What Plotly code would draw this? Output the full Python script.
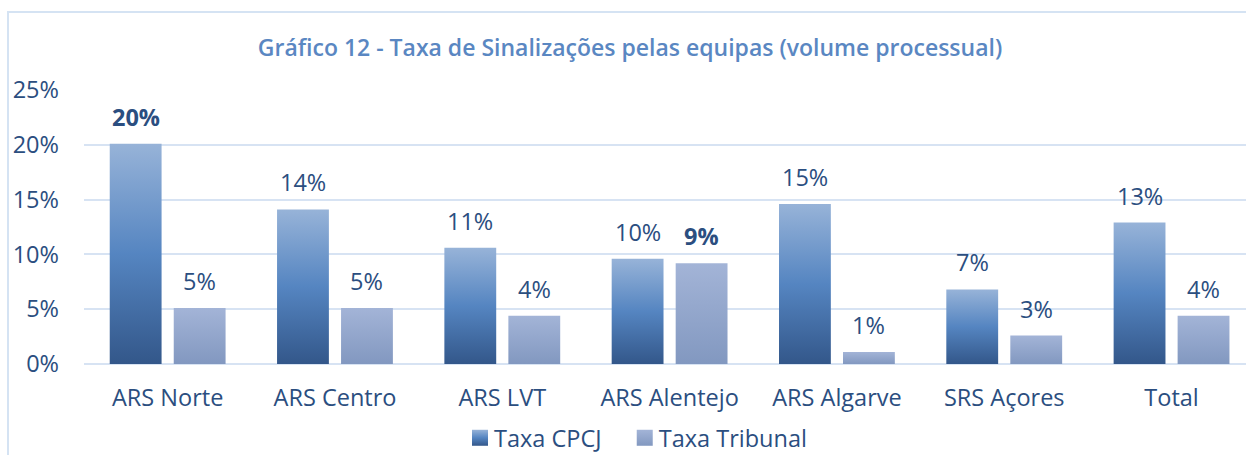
import plotly.graph_objects as go

categories = ["ARS Norte", "ARS Centro", "ARS LVT", "ARS Alentejo", "ARS Algarve", "SRS Açores", "Total"]
taxa_cpcj = [20.1, 14.1, 10.6, 9.6, 14.6, 6.8, 12.9]
taxa_tribunal = [5.1, 5.1, 4.4, 9.2, 1.1, 2.6, 4.4]
bold_cpcj = [True, False, False, False, False, False, False]
bold_trib = [False, False, False, True, False, False, False]
y_ticks = [0, 5, 10, 15, 20, 25]
y_tick_labels = ["0%", "5%", "10%", "15%", "20%", "25%"]
series_names = ["Taxa CPCJ", "Taxa Tribunal"]

TEXT = "#2B4E80"
FONT = "Open Sans"
FS = 23.5

fig = go.Figure()
fig.add_trace(go.Bar(name=series_names[0] + "\u00a0\u00a0", x=categories, y=taxa_cpcj,
                     marker=dict(color="#5A85BE", line=dict(width=0)), hoverinfo="skip"))
fig.add_trace(go.Bar(name=series_names[1], x=categories, y=taxa_tribunal,
                     marker=dict(color="#94A8CF", line=dict(width=0)), hoverinfo="skip"))

annotations = []
for series, bolds, shift in ((taxa_cpcj, bold_cpcj, -32), (taxa_tribunal, bold_trib, 32)):
    for c, v, b in zip(categories, series, bolds):
        annotations.append(dict(
            x=c, y=v, xref="x", yref="y", text=f"{v:.0f}%", showarrow=False,
            xshift=shift, yshift=27, yanchor="middle", xanchor="center",
            font=dict(family=FONT, size=FS, color=TEXT, weight=700 if b else 400)))

fig.update_layout(
    width=1246, height=455,
    margin=dict(l=84, r=0, t=90, b=91, autoexpand=False),
    paper_bgcolor="white", plot_bgcolor="white",
    barmode="group", bargap=0.235, bargroupgap=0.19,
    font=dict(family=FONT, size=FS, color=TEXT),
    title=dict(text="Gráfico 12 - Taxa de Sinalizações pelas equipas (volume processual)",
               x=630 / 1246, xref="container", xanchor="center",
               y=1 - 48 / 455, yref="container", yanchor="middle",
               font=dict(family=FONT, size=23, color="#5A87C2", weight=600)),
    xaxis=dict(type="category", range=[-0.5, 6.445], showgrid=False, showline=False,
               ticks="", tickfont=dict(size=FS, color=TEXT), ticklabelstandoff=17,
               fixedrange=True),
    yaxis=dict(range=[0, 25], tickvals=y_ticks, ticktext=y_tick_labels,
               showgrid=True, gridcolor="#D7E3F3", gridwidth=2,
               zeroline=True, zerolinecolor="#D7E3F3", zerolinewidth=2,
               showline=False, ticks="", tickfont=dict(size=FS, color=TEXT),
               ticklabelstandoff=24, fixedrange=True),
    legend=dict(orientation="h", xref="container", x=454 / 1246, xanchor="left",
                yref="container", y=1 - 438 / 455, yanchor="middle",
                font=dict(size=FS, color=TEXT), bgcolor="rgba(0,0,0,0)",
                itemwidth=30, tracegroupgap=0),
    annotations=annotations,
    shapes=[dict(type="rect", xref="paper", yref="paper",
                 x0=(8 - 84) / 1162, x1=1.05, y0=-0.4, y1=(364 - 12) / 274,
                 line=dict(color="#D5E3F3", width=2), fillcolor="rgba(0,0,0,0)", layer="below")],
)

post = """
document.body.style.margin = '0';
document.body.style.padding = '0';
var gd = document.getElementById('{plot_id}');
var ns = 'http://www.w3.org/2000/svg';
var svg = gd.querySelector('svg.main-svg');
var defs = svg.querySelector('defs');
function mk(id, stops){
  var lg = document.createElementNS(ns, 'linearGradient');
  lg.setAttribute('id', id);
  lg.setAttribute('x1','0'); lg.setAttribute('y1','1');
  lg.setAttribute('x2','0'); lg.setAttribute('y2','0');
  stops.forEach(function(s){
    var st = document.createElementNS(ns, 'stop');
    st.setAttribute('offset', s[0]); st.setAttribute('stop-color', s[1]);
    lg.appendChild(st);
  });
  defs.appendChild(lg);
}
mk('gradCPCJ', [['0','#33578A'],['0.5','#5585C1'],['1','#97B3D8']]);
mk('gradTrib', [['0','#8298C0'],['1','#A3B4D7']]);
var grads = ['url(#gradCPCJ)','url(#gradTrib)'];
var traces = gd.querySelectorAll('g.barlayer g.trace.bars');
traces.forEach(function(t, i){
  t.querySelectorAll('path').forEach(function(p){ p.style.fill = grads[i]; });
});
var leg = gd.querySelectorAll('g.legend g.traces');
leg.forEach(function(t, i){
  t.querySelectorAll('g.legendpoints path').forEach(function(p){
    p.setAttribute('d', 'M14,8H-2V-8H14Z');
    p.style.fill = grads[i];
  });
});
"""

fig.write_html("out.html", post_script=post, config={"displayModeBar": False})
